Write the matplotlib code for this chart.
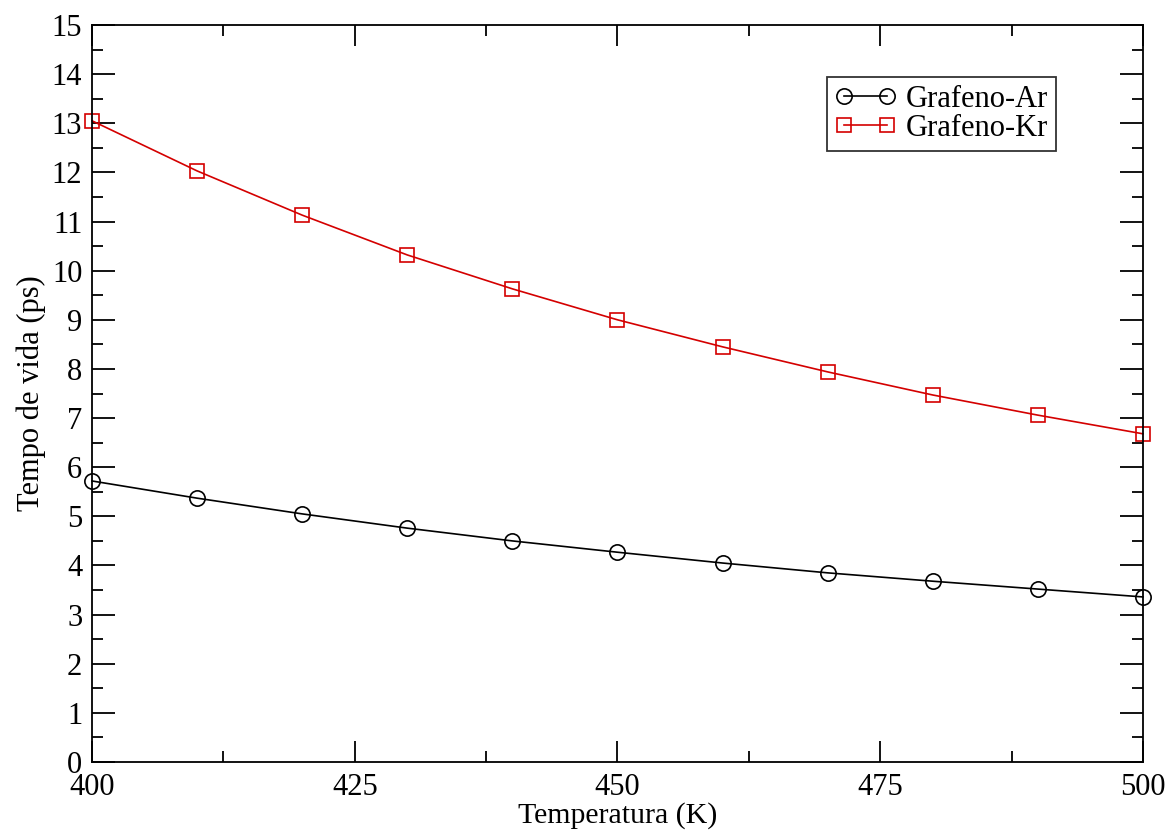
import matplotlib.pyplot as plt
from matplotlib.ticker import MultipleLocator

temperatura = [400, 410, 420, 430, 440, 450, 460, 470, 480, 490, 500]
grafeno_ar = [5.72, 5.37, 5.05, 4.76, 4.50, 4.27, 4.05, 3.85, 3.68, 3.52, 3.36]
grafeno_kr = [13.05, 12.03, 11.13, 10.32, 9.63, 9.00, 8.45, 7.94, 7.47, 7.06, 6.68]

plt.rcParams['font.family'] = ['Liberation Serif', 'DejaVu Serif']

fig = plt.figure(figsize=(11.71, 8.33), dpi=100)
ax = fig.add_axes([0.0786, 0.0852, 0.8974, 0.8848])

ax.plot(temperatura, grafeno_ar, color='black', lw=1.2, marker='o', ms=11,
        mfc='none', mec='black', mew=1.2, label='Grafeno-Ar', clip_on=False)
ax.plot(temperatura, grafeno_kr, color='#d40000', lw=1.2, marker='s', ms=10,
        mfc='none', mec='#d40000', mew=1.2, label='Grafeno-Kr', clip_on=False)

ax.set_xlim(400, 500)
ax.set_ylim(0, 15)
ax.xaxis.set_major_locator(MultipleLocator(25))
ax.xaxis.set_minor_locator(MultipleLocator(12.5))
ax.yaxis.set_major_locator(MultipleLocator(1))
ax.yaxis.set_minor_locator(MultipleLocator(0.5))
ax.tick_params(which='both', direction='in', top=True, right=True, width=1.3)
ax.tick_params(which='major', labelsize=22)
ax.tick_params(axis='y', which='major', length=16.3, pad=7)
ax.tick_params(axis='x', which='major', length=15, pad=8)
ax.tick_params(which='minor', length=7.7)
for s in ax.spines.values():
    s.set_linewidth(1.3)

ax.set_xlabel('Temperatura (K)', fontsize=21.5, labelpad=0)
ax.set_ylabel('Tempo de vida (ps)', fontsize=22, labelpad=4)

leg = ax.legend(loc='upper right', bbox_to_anchor=(0.917, 0.929), numpoints=2,
                fontsize=22, frameon=True, fancybox=False, edgecolor='black',
                handlelength=2.0, handletextpad=0.33, borderpad=0.25,
                labelspacing=0.0, borderaxespad=0)
leg.get_frame().set_linewidth(1.3)

fig.savefig('out.png', dpi=100)
